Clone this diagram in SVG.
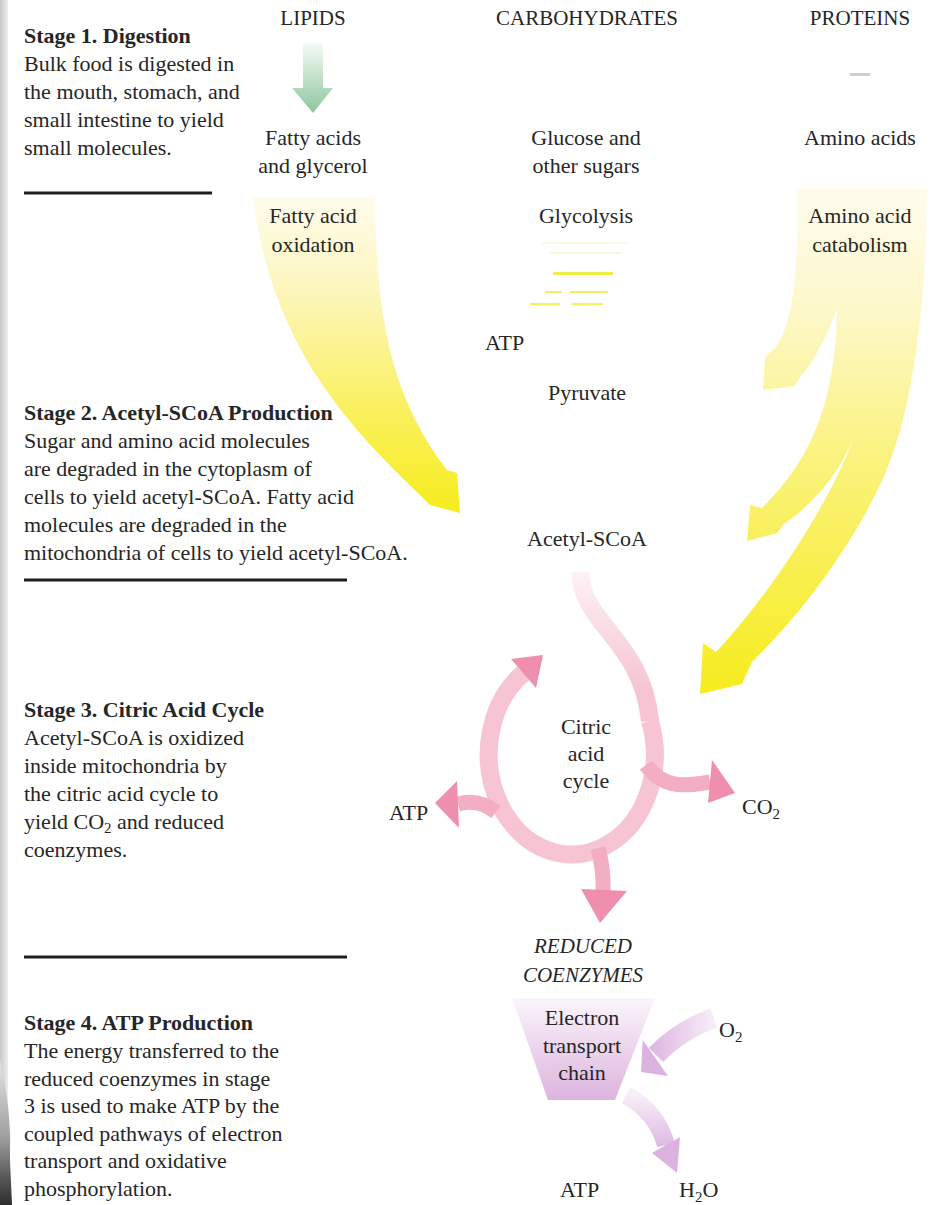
<svg xmlns="http://www.w3.org/2000/svg" width="930" height="1205" viewBox="0 0 930 1205">
<defs>
<style>
.t{font-family:"Liberation Serif","Times New Roman",serif;font-size:22px;fill:#262626}
.b{font-weight:bold}
.m{text-anchor:middle}
.cap{font-size:21px}
.i{font-style:italic;font-size:21px}
.rule{stroke:#1e1e1e;stroke-width:3}
.ring{fill:none;stroke:#f6c4d2;stroke-width:18}
.pbr{fill:none;stroke:#f3aec3;stroke-width:15}
.phd{fill:#ee8fad}
.lil{fill:#dcb2e0}
</style>
<linearGradient id="gStrip" x1="0" y1="0" x2="1" y2="0"><stop offset="0" stop-color="#c9c9c9"/><stop offset="1" stop-color="#eeeeee"/></linearGradient>
<linearGradient id="gCorner" x1="0" y1="0" x2="0" y2="1"><stop offset="0" stop-color="#e6e6e6"/><stop offset="0.55" stop-color="#9c9c9c"/><stop offset="0.8" stop-color="#5a5a5a"/><stop offset="1" stop-color="#2e2e2e"/></linearGradient>
<linearGradient id="gGreen" x1="0" y1="0" x2="0" y2="1"><stop offset="0" stop-color="#f6fbf7"/><stop offset="1" stop-color="#8cc79c"/></linearGradient>
<linearGradient id="gFat" gradientUnits="userSpaceOnUse" x1="0" y1="195" x2="0" y2="512"><stop offset="0" stop-color="#fffcee"/><stop offset="0.3" stop-color="#fcf6bd"/><stop offset="0.7" stop-color="#f9f05a"/><stop offset="1" stop-color="#f6ec1e"/></linearGradient>
<linearGradient id="gAmino" gradientUnits="userSpaceOnUse" x1="0" y1="188" x2="0" y2="694"><stop offset="0" stop-color="#fffcee"/><stop offset="0.25" stop-color="#fdf8c8"/><stop offset="0.55" stop-color="#faf27a"/><stop offset="1" stop-color="#f6ec1e"/></linearGradient>
<linearGradient id="gBand" gradientUnits="userSpaceOnUse" x1="0" y1="572" x2="0" y2="690"><stop offset="0" stop-color="#fdf2f5"/><stop offset="1" stop-color="#f6c4d2"/></linearGradient>
<linearGradient id="gTrap" x1="0" y1="0" x2="0" y2="1"><stop offset="0" stop-color="#fbf5fb"/><stop offset="1" stop-color="#dcb4de"/></linearGradient>
<linearGradient id="gO2" gradientUnits="userSpaceOnUse" x1="715" y1="0" x2="650" y2="0"><stop offset="0" stop-color="#f8eef8"/><stop offset="1" stop-color="#ddb6e1"/></linearGradient>
<linearGradient id="gH2O" gradientUnits="userSpaceOnUse" x1="0" y1="1095" x2="0" y2="1150"><stop offset="0" stop-color="#f8eef8"/><stop offset="1" stop-color="#ddb6e1"/></linearGradient>
</defs>
<rect width="930" height="1205" fill="#ffffff"/>
<g id="frame">
<rect x="0" y="0" width="8" height="1205" fill="url(#gStrip)"/>
<path d="M0,1060 Q12,1110 10,1160 L12,1205 L0,1205 Z" fill="url(#gCorner)"/>
</g>

<g id="connectors">
<path id="lipid-arrow" d="M303,43 L323,43 L323,88 L333,88 L313,113 L292,88 L303,88 Z" fill="url(#gGreen)"/>
<rect x="850" y="73" width="20" height="3" fill="#cfcfcf"/>
<path id="fatty-arrow" d="M253,197 L375,197 C376,300 385,390 447,470 L457,473 L460,513 L430,505 L420,495 C330,410 270,330 253,197 Z" fill="url(#gFat)"/>
<path id="amino-arrows" d="M797,188 L927,188 C926,300 915,420 875,495 C845,555 800,615 752,662 L742,684 L700,694 L703,643 L716,652 C765,600 835,500 860,420 C845,470 812,505 784,524 L777,533 L747,541 L750,505 L762,508 C800,470 835,420 837,310 C825,340 812,365 800,377 L795,386 L763,390 L765,357 L775,348 C795,320 798,270 797,188 Z" fill="url(#gAmino)"/>
<g id="glycolysis-lines">
<rect x="542" y="242" width="85" height="2" fill="#fafae2"/>
<rect x="550" y="252" width="72" height="2" fill="#f8f8d8"/>
<rect x="553" y="272" width="60" height="3" fill="#eeee48"/>
<rect x="545" y="291" width="17" height="2" fill="#f0f060"/>
<rect x="570" y="291" width="38" height="2" fill="#f0f060"/>
<rect x="530" y="303" width="30" height="2" fill="#f2f25a"/>
<rect x="572" y="303" width="31" height="2" fill="#f2f25a"/>
</g>
<path id="acetyl-band" d="M580,572 C582,625 642,640 650,721" fill="none" stroke="url(#gBand)" stroke-width="18"/>
<path id="cycle-ring" class="ring" d="M649.9,720.8 A83 100 0 1 1 523.4,673.1"/>
<polygon class="phd" points="511,659 543,655 536,688"/>
<path class="pbr" d="M496,812 Q478,798 458,804"/>
<polygon class="phd" points="457,781 435,803 459,828"/>
<path class="pbr" d="M646,765 C664,790 688,786 710,782"/>
<polygon class="phd" points="712,760 735,793 708,803"/>
<path class="pbr" d="M598,848 Q604,870 603,892"/>
<polygon class="phd" points="581,889 627,891 600,923"/>
<path d="M714,1018 Q680,1030 656,1055" fill="none" stroke="url(#gO2)" stroke-width="20"/>
<polygon class="lil" points="642.7,1040 641,1072 668,1076"/>
<path d="M626,1095 Q657,1112 666,1145" fill="none" stroke="url(#gH2O)" stroke-width="18"/>
<polygon class="lil" points="652,1153 680,1137 677,1173"/>
</g>

<g id="stage1">
<text class="t b" x="24" y="43">Stage 1. Digestion</text>
<text class="t" x="24" y="71">Bulk food is digested in</text>
<text class="t" x="24" y="99">the mouth, stomach, and</text>
<text class="t" x="24" y="127">small intestine to yield</text>
<text class="t" x="24" y="155">small molecules.</text>
<line class="rule" x1="24" y1="193" x2="212" y2="193"/>
</g>
<g id="stage2">
<text class="t b" x="24" y="420">Stage 2. Acetyl-SCoA Production</text>
<text class="t" x="24" y="448">Sugar and amino acid molecules</text>
<text class="t" x="24" y="476">are degraded in the cytoplasm of</text>
<text class="t" x="24" y="504">cells to yield acetyl-SCoA. Fatty acid</text>
<text class="t" x="24" y="532">molecules are degraded in the</text>
<text class="t" x="24" y="560">mitochondria of cells to yield acetyl-SCoA.</text>
<line class="rule" x1="24" y1="580" x2="347" y2="580"/>
</g>
<g id="stage3">
<text class="t b" x="24" y="717">Stage 3. Citric Acid Cycle</text>
<text class="t" x="24" y="745">Acetyl-SCoA is oxidized</text>
<text class="t" x="24" y="773">inside mitochondria by</text>
<text class="t" x="24" y="801">the citric acid cycle to</text>
<text class="t" x="24" y="829">yield CO<tspan font-size="15" dy="4">2</tspan><tspan dy="-4"> and reduced</tspan></text>
<text class="t" x="24" y="857">coenzymes.</text>
<line class="rule" x1="24" y1="957" x2="347" y2="957"/>
</g>
<g id="stage4">
<text class="t b" x="24" y="1030">Stage 4. ATP Production</text>
<text class="t" x="24" y="1058">The energy transferred to the</text>
<text class="t" x="24" y="1086">reduced coenzymes in stage</text>
<text class="t" x="24" y="1113">3 is used to make ATP by the</text>
<text class="t" x="24" y="1141">coupled pathways of electron</text>
<text class="t" x="24" y="1168">transport and oxidative</text>
<text class="t" x="24" y="1196">phosphorylation.</text>
</g>

<g id="lipids"><text class="t cap m" x="313" y="25">LIPIDS</text></g>
<g id="carbohydrates"><text class="t cap m" x="587" y="25">CARBOHYDRATES</text></g>
<g id="proteins"><text class="t cap m" x="860" y="25">PROTEINS</text></g>
<g id="fatty-acids"><text class="t m" x="313" y="145">Fatty acids</text><text class="t m" x="313" y="173">and glycerol</text></g>
<g id="glucose"><text class="t m" x="586" y="145">Glucose and</text><text class="t m" x="586" y="173">other sugars</text></g>
<g id="amino-acids"><text class="t m" x="860" y="145">Amino acids</text></g>
<g id="fatty-acid-oxidation"><text class="t m" x="313" y="223">Fatty acid</text><text class="t m" x="313" y="252">oxidation</text></g>
<g id="glycolysis"><text class="t m" x="586" y="223">Glycolysis</text></g>
<g id="amino-acid-catabolism"><text class="t m" x="860" y="223">Amino acid</text><text class="t m" x="860" y="252">catabolism</text></g>
<g id="atp-glycolysis"><text class="t" x="485" y="350">ATP</text></g>
<g id="pyruvate"><text class="t m" x="587" y="400">Pyruvate</text></g>
<g id="acetyl-scoa"><text class="t m" x="587" y="546">Acetyl-SCoA</text></g>
<g id="citric-acid-cycle"><text class="t m" x="586" y="734">Citric</text><text class="t m" x="586" y="761">acid</text><text class="t m" x="586" y="788">cycle</text></g>
<g id="atp-cycle"><text class="t" x="389" y="820">ATP</text></g>
<g id="co2"><text class="t" x="742" y="814">CO<tspan font-size="15" dy="5">2</tspan></text></g>
<g id="reduced-coenzymes"><text class="t i m" x="583" y="953">REDUCED</text><text class="t i m" x="583" y="982">COENZYMES</text></g>
<g id="electron-transport-chain">
<polygon points="512,998 655,998 615,1100 548,1100" fill="url(#gTrap)"/>
<text class="t m" x="582" y="1025">Electron</text><text class="t m" x="582" y="1053">transport</text><text class="t m" x="582" y="1080">chain</text>
</g>
<g id="o2"><text class="t" x="719" y="1037">O<tspan font-size="15" dy="5">2</tspan></text></g>
<g id="atp-etc"><text class="t" x="560" y="1197">ATP</text></g>
<g id="h2o"><text class="t" x="679" y="1197">H<tspan font-size="15" dy="5">2</tspan><tspan dy="-5">O</tspan></text></g>
</svg>
